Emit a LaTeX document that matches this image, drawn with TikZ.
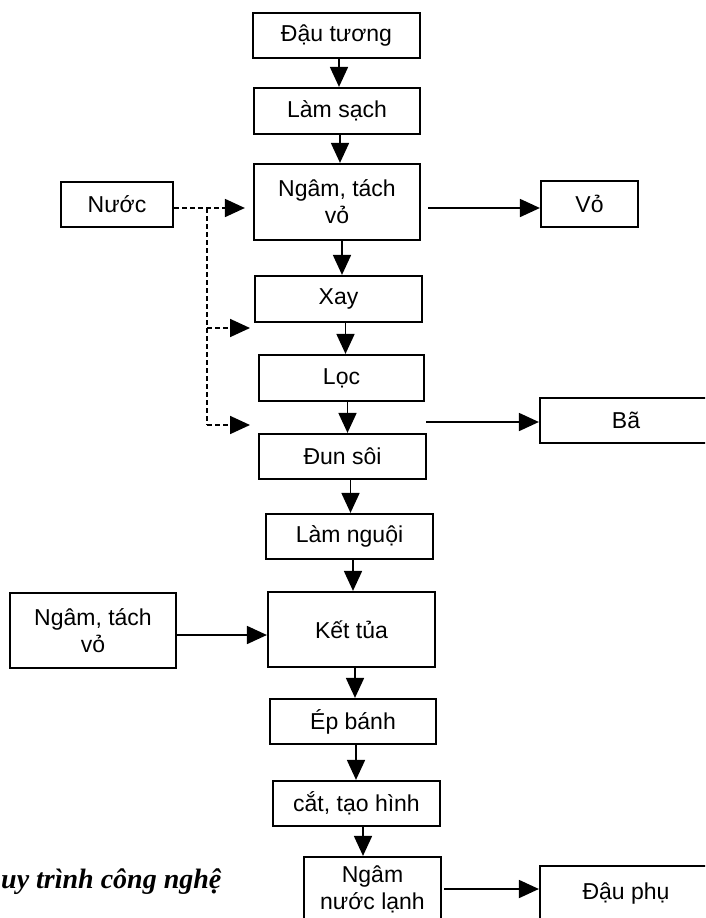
\documentclass[tikz,border=0pt]{standalone}
\usepackage{fontspec}
\setmainfont{Liberation Sans}
\newfontfamily\capfont{Liberation Serif}
\usetikzlibrary{arrows.meta,calc}
\begin{document}
\begin{tikzpicture}[x=1pt,y=-1pt,
  box/.style={draw,line width=2.2pt,inner sep=0pt,align=center,
    font=\fontsize{23}{27}\selectfont},
  arr/.style={line width=1.8pt,-{Triangle[length=20pt,width=18pt]}},
  dsh/.style={arr,dash pattern=on 5pt off 3pt}]
\useasboundingbox (0,0) rectangle (705,918);
\clip (0,0) rectangle (705,918);
\fill[white] (0,0) rectangle (705,918);
% boxes
\node[box,minimum width=167pt,minimum height=45pt] (dt) at (336.5,35.5) {Đậu tương};
\node[box,minimum width=166pt,minimum height=46pt] (ls) at (337,111) {Làm sạch};
\node[box,minimum width=166pt,minimum height=76pt] (ng) at (337,202) {Ngâm, tách\\vỏ};
\node[box,minimum width=112pt,minimum height=45pt] (nuoc) at (117,204.5) {Nước};
\node[box,minimum width=97pt,minimum height=46pt] (vo) at (589.5,204) {Vỏ};
\node[box,minimum width=167pt,minimum height=46pt] (xay) at (338.5,299) {Xay};
\node[box,minimum width=165pt,minimum height=46pt] (loc) at (341.5,378) {Lọc};
\node[box,minimum width=172pt,minimum height=45pt] (ba) at (626,420.5) {Bã};
\node[box,minimum width=167pt,minimum height=45pt] (ds) at (342.5,456.5) {Đun sôi};
\node[box,minimum width=167pt,minimum height=45pt] (ln) at (349.5,536.5) {Làm nguội};
\node[box,minimum width=167pt,minimum height=75pt] (kt) at (351.5,629.5) {Kết tủa};
\node[box,minimum width=166pt,minimum height=75pt] (ng2) at (93,630.5) {Ngâm, tách\\vỏ};
\node[box,minimum width=166pt,minimum height=45pt] (eb) at (353,721.5) {Ép bánh};
\node[box,minimum width=167pt,minimum height=45pt] (ct) at (356.5,803.5) {cắt, tạo hình};
\node[box,minimum width=137pt,minimum height=64pt] (nnl) at (372.5,889) {Ngâm\\nước lạnh};
\node[box,minimum width=172pt,minimum height=56pt] (dp) at (626,894) {Đậu phụ};
% caption fragment
\node[anchor=base west,inner sep=0pt,font=\capfont\bfseries\itshape\fontsize{28}{32}\selectfont] (cap) at (1,888) {uy trình công nghệ};
% vertical arrows
\draw[arr] ([xshift=2.5pt]dt.south) -- ([xshift=2.5pt]dt.south |- ls.north);
\draw[arr] ([xshift=3pt]ls.south) -- ([xshift=3pt]ls.south |- ng.north);
\draw[arr] ([xshift=5pt]ng.south) -- ([xshift=5pt]ng.south |- xay.north);
\draw[arr] ([xshift=7pt]xay.south) -- ([xshift=7pt]xay.south |- loc.north);
\draw[arr] ([xshift=6pt]loc.south) -- ([xshift=6pt]loc.south |- ds.north);
\draw[arr] ([xshift=8pt]ds.south) -- ([xshift=8pt]ds.south |- ln.north);
\draw[arr] ([xshift=3.5pt]ln.south) -- ([xshift=3.5pt]ln.south |- kt.north);
\draw[arr] ([xshift=3.5pt]kt.south) -- ([xshift=3.5pt]kt.south |- eb.north);
\draw[arr] ([xshift=3pt]eb.south) -- ([xshift=3pt]eb.south |- ct.north);
\draw[arr] ([xshift=6.5pt]ct.south) -- ([xshift=6.5pt]ct.south |- nnl.north);
% horizontal arrows
\draw[arr] ([xshift=7pt,yshift=-6pt]ng.east) -- ([yshift=-6pt]ng.east -| vo.west);
\coordinate (bs) at (426,422);
\draw[arr] (bs) -- (bs -| ba.west);
\draw[arr] ([yshift=-4.5pt]ng2.east) -- ([yshift=-4.5pt]ng2.east -| kt.west);
\draw[arr] ([xshift=2pt]nnl.east) -- (nnl.east -| dp.west);
% dashed water lines
\coordinate (j0) at (207,208);
\coordinate (j1) at (207,328);
\coordinate (j2) at (207,425);
\coordinate (t1) at (250,328);
\coordinate (t2) at (250,425);
\draw[dsh] (nuoc.east |- j0) -- ([xshift=-8pt]ng.west |- j0);
\draw[line width=1.8pt,dash pattern=on 5pt off 3pt] (j0) -- (j2);
\draw[dsh] (j1) -- (t1);
\draw[dsh] (j2) -- (t2);
\end{tikzpicture}
\end{document}
